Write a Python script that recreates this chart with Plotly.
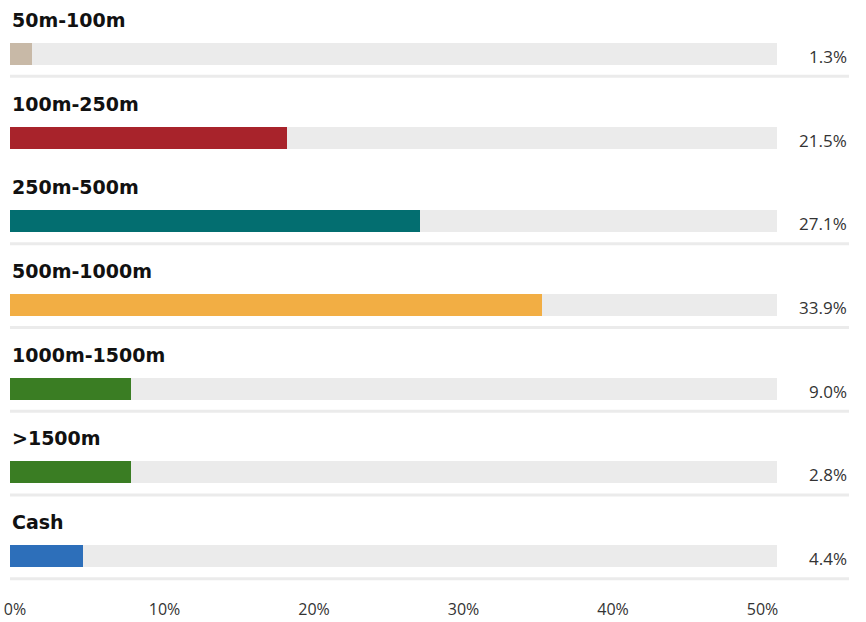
import plotly.graph_objects as go

categories = ["50m-100m", "100m-250m", "250m-500m", "500m-1000m", "1000m-1500m", ">1500m", "Cash"]
bar_values = [1.5, 18.5, 27.4, 35.6, 8.1, 8.1, 4.9]
value_labels = ["1.3%", "21.5%", "27.1%", "33.9%", "9.0%", "2.8%", "4.4%"]
track_max = 51.3
tick_values = [0, 10, 20, 30, 40, 50]
tick_labels = ["0%", "10%", "20%", "30%", "40%", "50%"]
has_rule = [True, False, True, True, True, True, True]

colors = ["#c8b9a7", "#a8232b", "#036e70", "#f2ae44", "#3a7d23", "#3a7d23", "#2d6fba"]
TRACK = "#ebebeb"

W, H = 866, 622
ML, MR, MT, MB = 10, 89, 12, 24
plot_w = W - ML - MR
row_px = (H - MT - MB) / len(categories)
bar_px = 22
bw = bar_px / row_px

fig = go.Figure()
fig.add_trace(go.Bar(
    y=categories, x=[track_max] * len(categories), orientation="h",
    marker=dict(color=TRACK, line=dict(width=0)), width=bw,
    hoverinfo="skip", showlegend=False))
fig.add_trace(go.Bar(
    y=categories, x=bar_values, orientation="h",
    marker=dict(color=colors, line=dict(width=0)), width=bw,
    customdata=value_labels, hovertemplate="%{y}: %{customdata}<extra></extra>",
    showlegend=False))

rule_right = (849 - ML) / plot_w
for i, cat in enumerate(categories):
    fig.add_annotation(
        x=0, xref="paper", y=cat, yref="y", yshift=34,
        text=cat, showarrow=False, xanchor="left", yanchor="middle", xshift=0,
        font=dict(family="DejaVu Sans", size=19, color="#111111", weight="bold"))
    fig.add_annotation(
        x=(849 - ML) / plot_w, xref="paper", y=cat, yref="y", yshift=-2.5,
        text=value_labels[i], showarrow=False, xanchor="right", yanchor="middle",
        font=dict(family="Open Sans", size=17, color="#333333"))
    if has_rule[i]:
        fig.add_shape(
            type="rect", xref="paper", x0=0, x1=rule_right,
            yref="y", ysizemode="pixel", yanchor=i, y0=-21, y1=-24,
            fillcolor=TRACK, line=dict(width=0), layer="below")

fig.update_layout(
    width=W, height=H,
    margin=dict(l=ML, r=MR, t=MT, b=MB, pad=0, autoexpand=False),
    paper_bgcolor="white", plot_bgcolor="white",
    barmode="overlay", bargap=0,
    xaxis=dict(range=[0, track_max], tickmode="array", tickvals=tick_values,
               ticktext=tick_labels,
               showgrid=False, zeroline=False, showline=False, ticks="",
               ticklabelshift=5, ticklabelstandoff=0, ticklabeloverflow="allow",
               tickfont=dict(family="Open Sans", size=16, color="#333333"),
               fixedrange=True, automargin=False),
    yaxis=dict(categoryorder="array", categoryarray=categories,
               range=[len(categories) - 0.5, -0.5],
               showticklabels=False, showgrid=False, zeroline=False,
               showline=False, ticks="", fixedrange=True, automargin=False),
    font=dict(family="Open Sans"),
)

fig.write_html("out.html", config={"displayModeBar": False},
               post_script="document.body.style.margin='0';")
